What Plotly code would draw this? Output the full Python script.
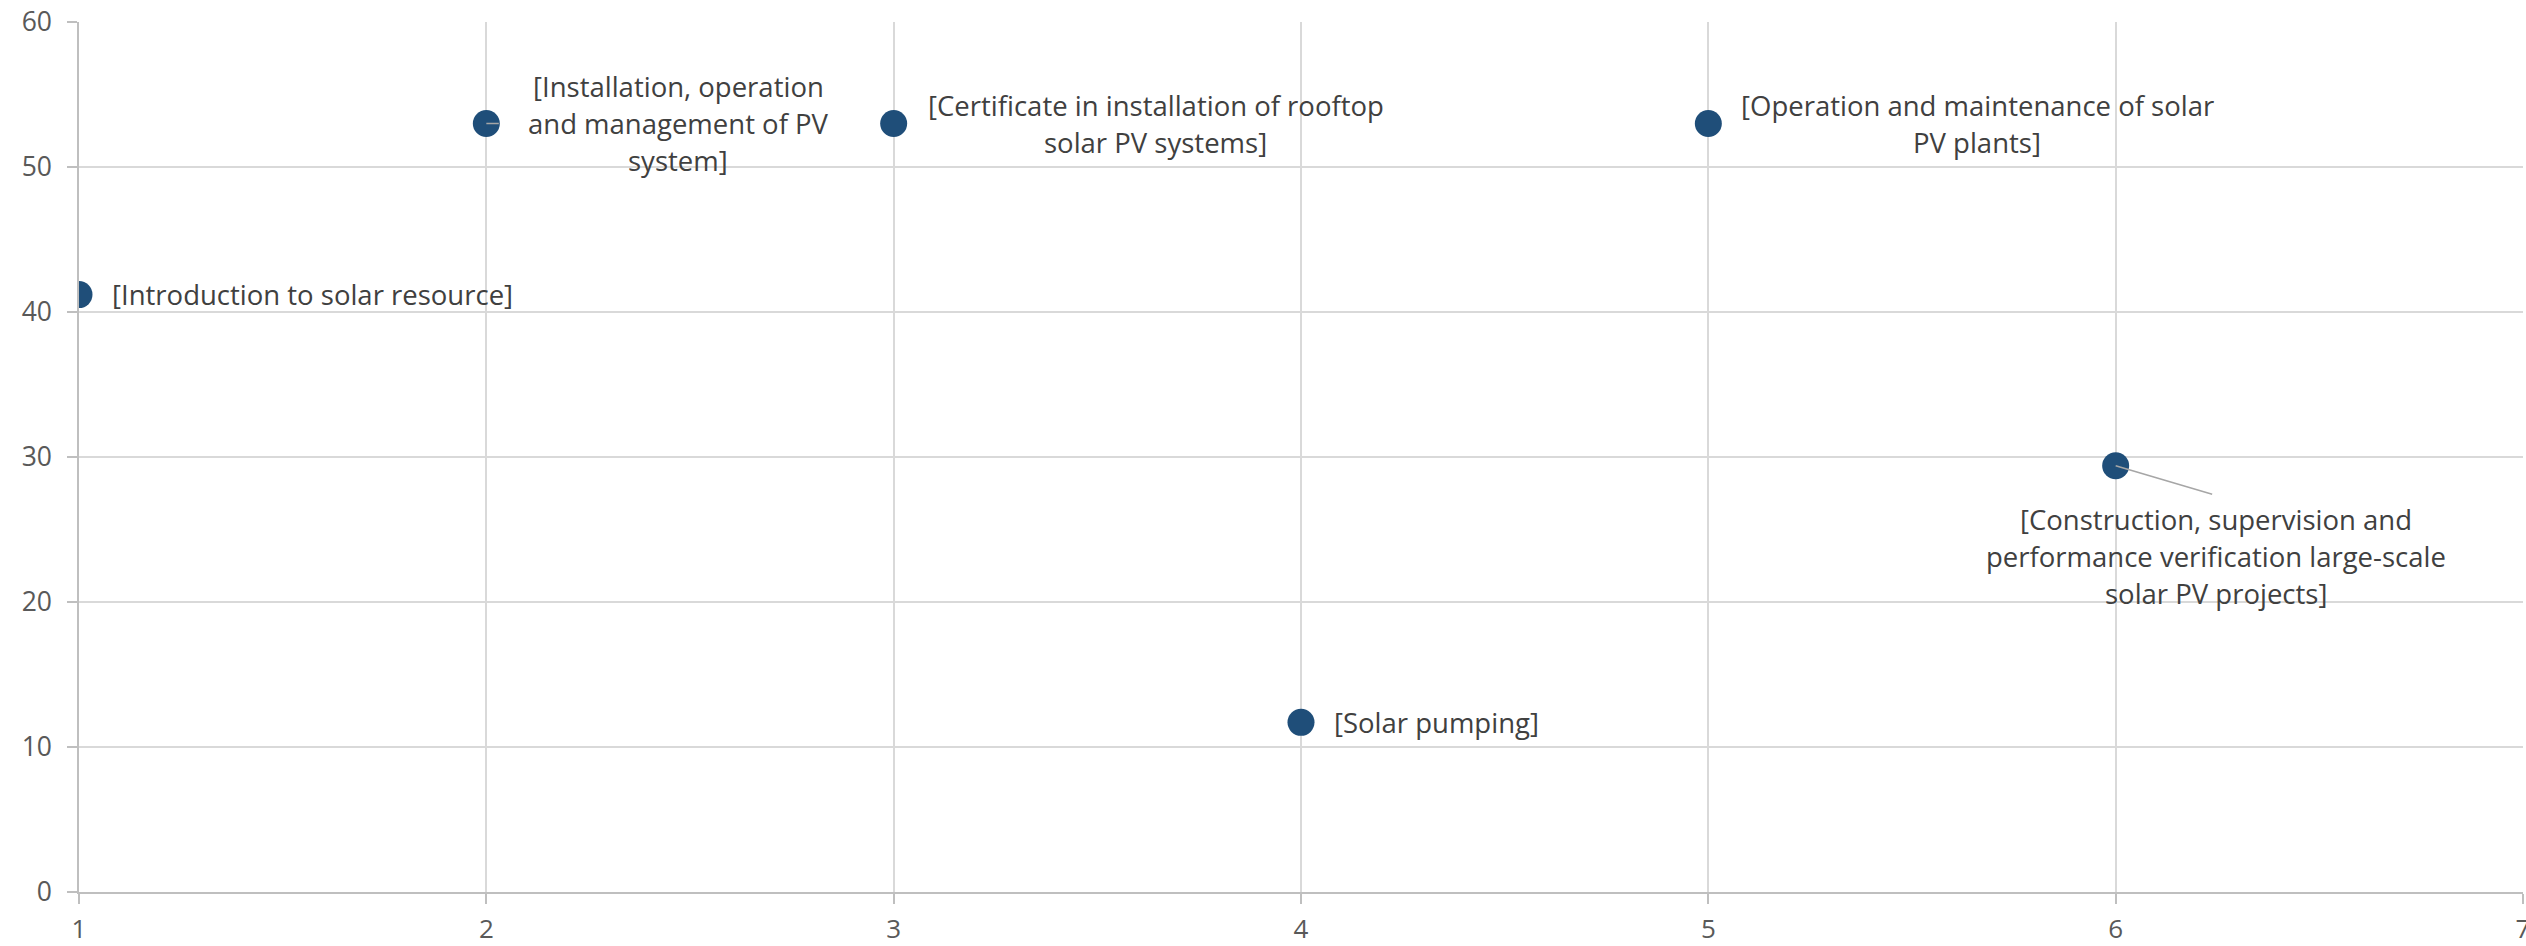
import plotly.graph_objects as go

# Course number on x, score on y
course_index = [1, 2, 3, 4, 5, 6]
course_score = [41.2, 53.0, 53.0, 11.7, 53.0, 29.4]
course_label = [
    "[Introduction to solar resource]",
    "[Installation, operation\nand management of PV\nsystem]",
    "[Certificate in installation of rooftop\nsolar PV systems]",
    "[Solar pumping]",
    "[Operation and maintenance of solar\nPV plants]",
    "[Construction, supervision and\nperformance verification large-scale\nsolar PV projects]",
]

x_ticks = [1, 2, 3, 4, 5, 6, 7]
y_ticks = [0, 10, 20, 30, 40, 50, 60]

MARKER = "#1F4E79"
TEXT = "#404040"
TICK = "#595959"
GRID = "#D9D9D9"
AXIS = "#BFBFBF"
FONT = "Open Sans, Noto Sans, sans-serif"
LINE_GAP = 37  # px between wrapped label lines

# label placement: (anchor, xshift, block centre yshift) in pixels from the point
label_place = [
    ("left", 31, 0),
    ("center", 192, 0),
    ("center", 262, 0),
    ("left", 31, 0),
    ("center", 269, 0),
    ("center", 100, -91),
]

fig = go.Figure()
fig.add_trace(go.Scatter(
    x=course_index, y=course_score, mode="markers",
    marker=dict(size=27, color=MARKER, line=dict(width=0)),
    showlegend=False, hoverinfo="x+y",
))

annotations = []
for xi, yi, text, (anchor, dx, dy) in zip(course_index, course_score, course_label, label_place):
    lines = text.split("\n")
    n = len(lines)
    for k, line in enumerate(lines):
        annotations.append(dict(
            x=xi, y=yi, xref="x", yref="y", text=line, showarrow=False,
            xanchor=anchor, yanchor="middle", xshift=dx,
            yshift=dy - (k - (n - 1) / 2) * LINE_GAP,
            font=dict(family=FONT, size=27.5, color=TEXT),
        ))

# leader lines from points to their labels
leaders = [(1, 14, 0), (5, 98, 29)]
for idx, ax, ay in leaders:
    annotations.append(dict(
        x=course_index[idx], y=course_score[idx], xref="x", yref="y", text="",
        showarrow=True, arrowhead=0, arrowwidth=1.5, arrowcolor="#A6A6A6",
        ax=ax, ay=ay, standoff=0, startstandoff=0,
    ))

fig.update_layout(
    width=2526, height=946,
    margin=dict(l=79, r=3, t=22, b=54, autoexpand=False),
    paper_bgcolor="white", plot_bgcolor="white",
    annotations=annotations,
    font=dict(family=FONT, color=TICK),
)
fig.update_xaxes(
    range=[1, 7], tickvals=x_ticks, showgrid=True, gridcolor=GRID, gridwidth=1.5,
    zeroline=False, showline=True, linecolor=AXIS, linewidth=1.5,
    ticks="outside", ticklen=10, tickcolor=AXIS, tickwidth=1.5, automargin=False,
    ticklabeloverflow="allow",
    tickfont=dict(family=FONT, size=26, color=TICK), ticklabelstandoff=3,
)
fig.update_yaxes(
    range=[0, 60], tickvals=y_ticks, showgrid=True, gridcolor=GRID, gridwidth=1.5,
    zeroline=False, showline=True, linecolor=AXIS, linewidth=1.5,
    ticks="outside", ticklen=10, tickcolor=AXIS, tickwidth=1.5, automargin=False,
    ticklabeloverflow="allow",
    tickfont=dict(family=FONT, size=26.5, color=TICK), ticklabelstandoff=10,
)

fig.write_html("out.html")
